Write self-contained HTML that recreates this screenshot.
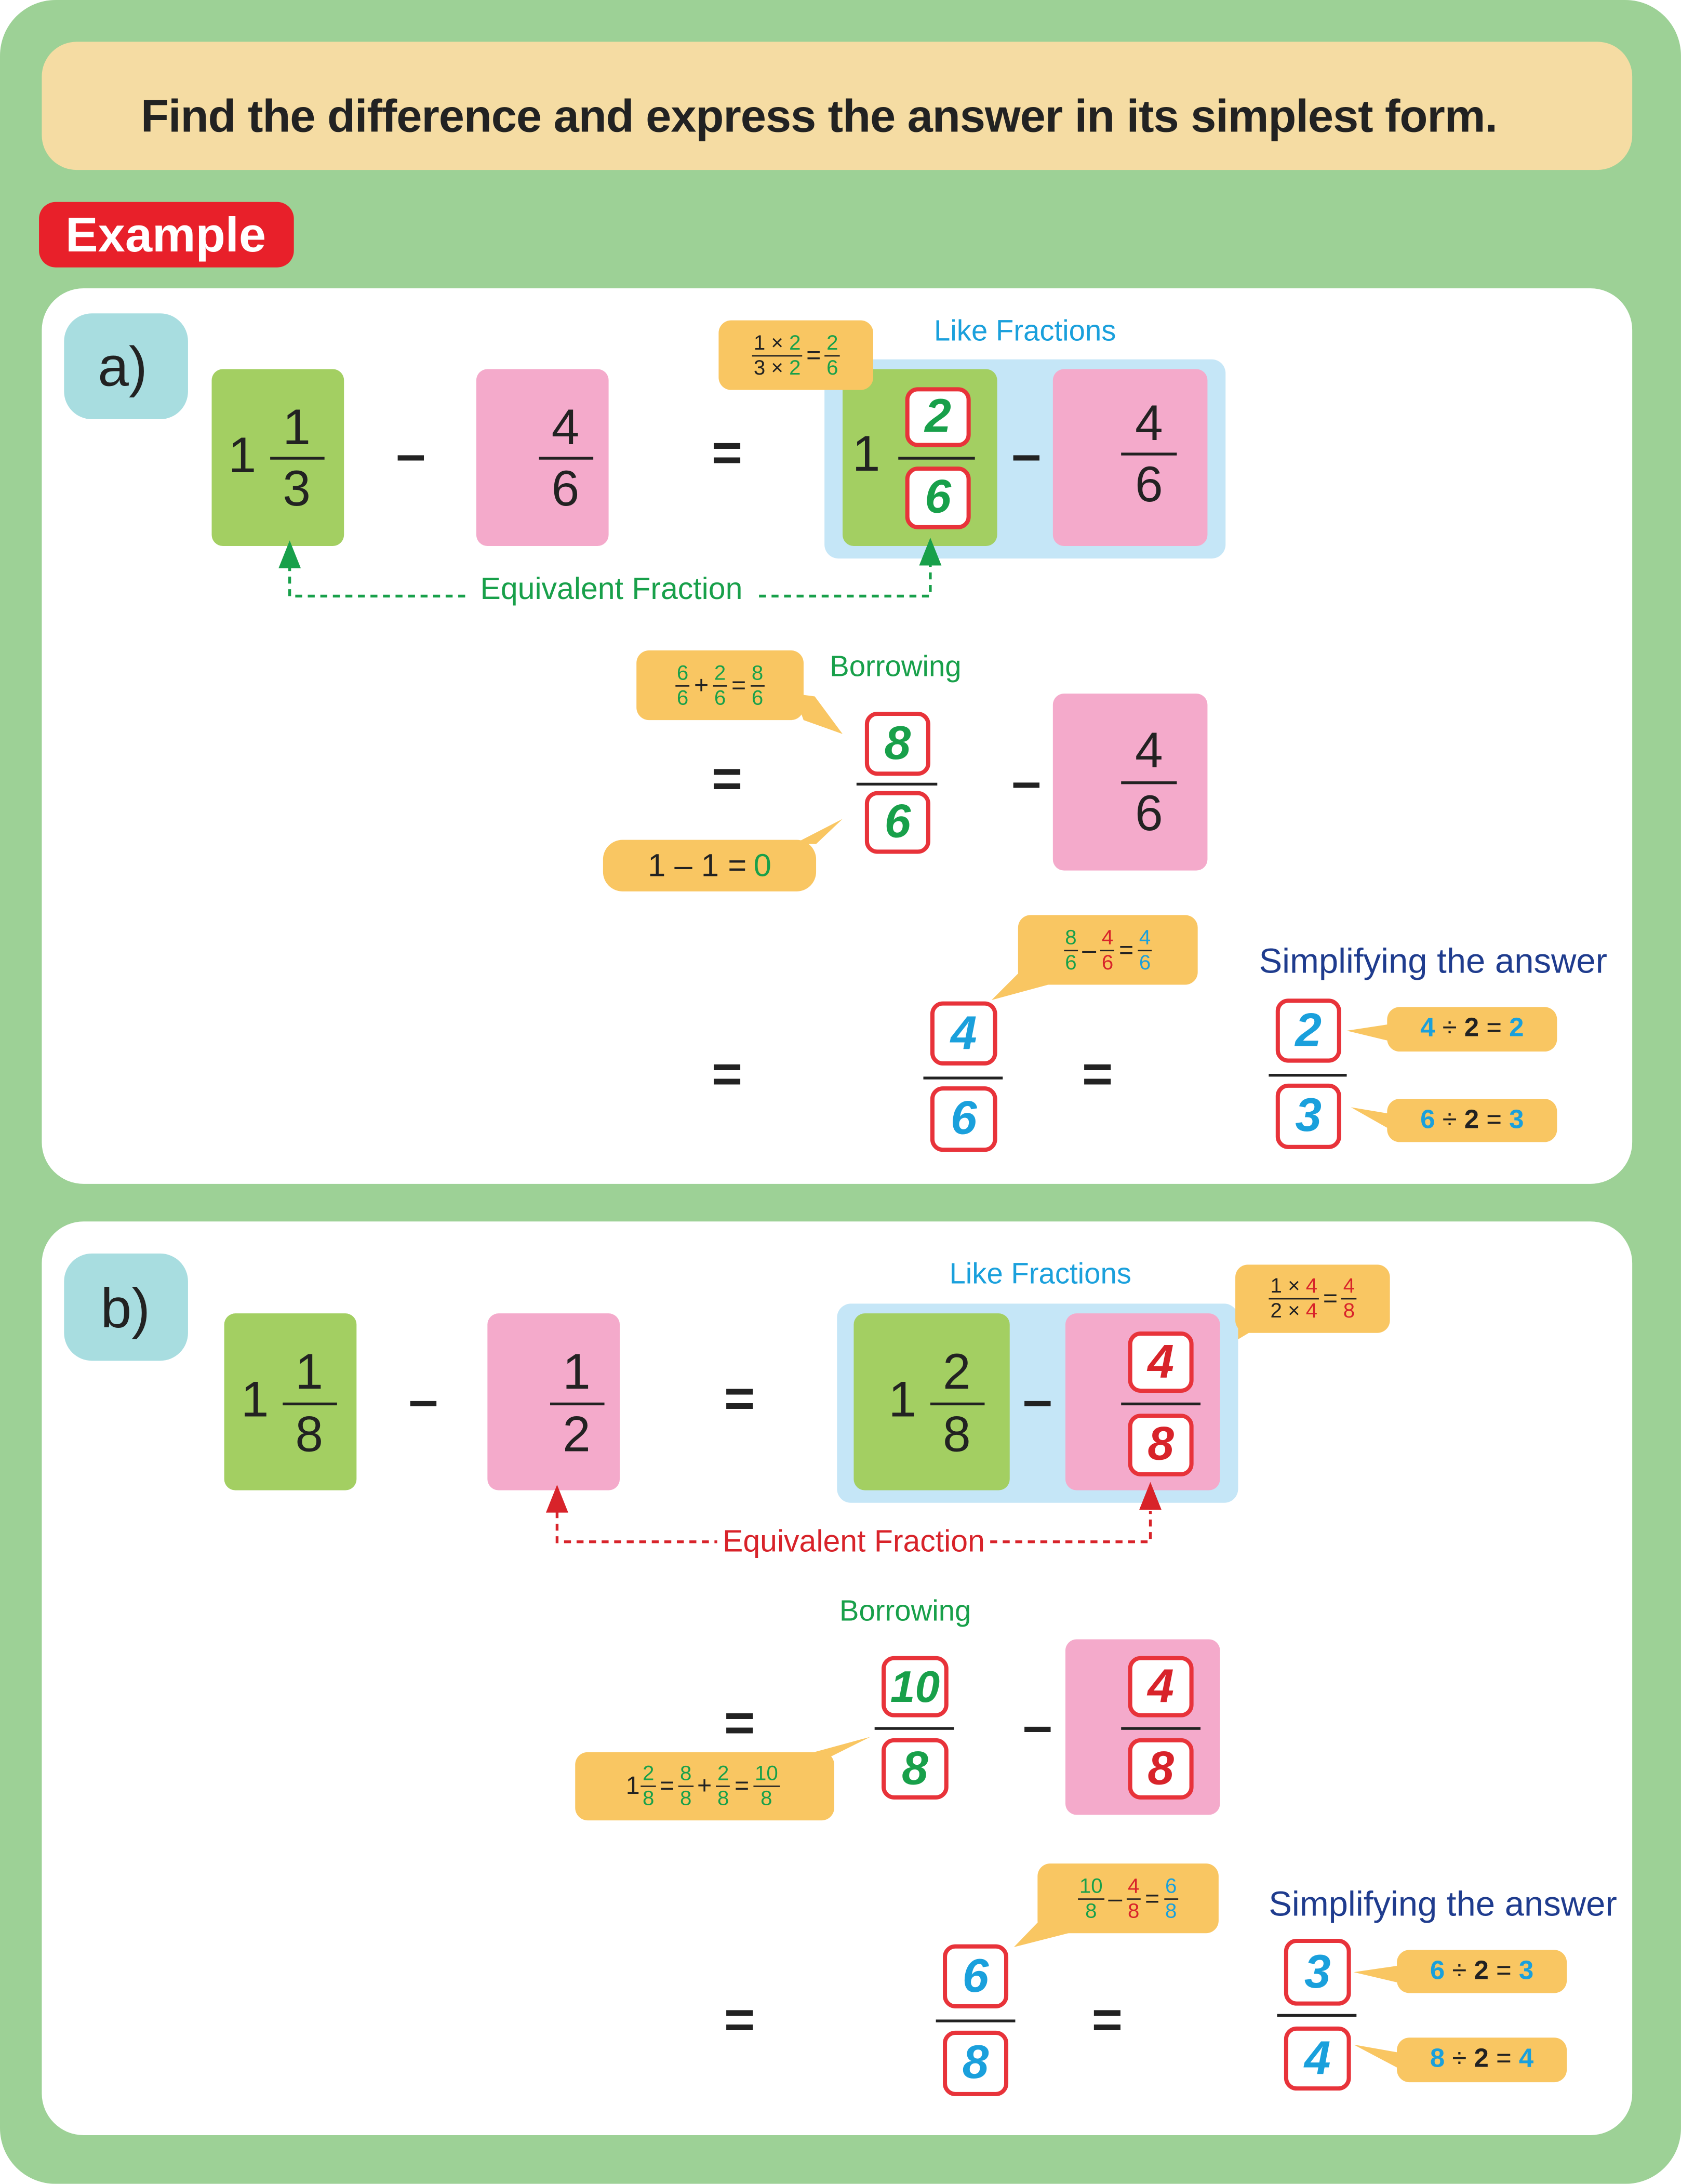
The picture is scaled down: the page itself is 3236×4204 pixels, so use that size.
<!DOCTYPE html>
<html><head><meta charset="utf-8"><style>
html,body{margin:0;padding:0;background:#fff;}
#w{position:absolute;left:0;top:0;width:1207px;height:1568px;transform:scale(2.681);transform-origin:0 0;font-family:"Liberation Sans",sans-serif;overflow:hidden;background:#fff}
.a{position:absolute;box-sizing:border-box}
.c{position:absolute;transform:translate(-50%,-50%);white-space:nowrap;line-height:1}
.g{background:#a3cf62;border-radius:8px}
.p{background:#f4aacb;border-radius:8px}
.bl{background:#c5e6f7;border-radius:10px}
.big{font-size:36px;color:#222}
.op{font-size:38px;color:#222;font-weight:bold}
.ln{position:absolute;height:2px;background:#222}
.rb{position:absolute;box-sizing:border-box;border:3px solid #e8333a;border-radius:9px;background:#fff;display:flex;align-items:center;justify-content:center;font-size:34px;font-weight:bold;font-style:italic}
.co{position:absolute;box-sizing:border-box;background:#f9c662;border-radius:9px;display:flex;align-items:center;justify-content:center;font-size:18px;color:#222;white-space:nowrap}
.fr{display:inline-flex;flex-direction:column;align-items:center;vertical-align:middle;font-size:15px;line-height:17px;margin:0 3px}
.fr>span:first-child{border-bottom:1px solid #222;padding:0 1px}
.gr{color:#18a04a}.rd{color:#d8232a}.bu{color:#1aa0dc}
</style></head><body><div id="w">
<div class="a" style="left:0;top:0;width:1207px;height:1568px;background:#9dd196;border-radius:40px"></div>
<div class="a" style="left:30px;top:30px;width:1142px;height:92px;background:#f5dca3;border-radius:25px"></div>
<div class="c" style="left:588px;top:83px;font-size:33px;font-weight:bold;color:#222;letter-spacing:-0.4px">Find the difference and express the answer in its simplest form.</div>
<div class="a" style="left:28px;top:145px;width:183px;height:47px;background:#e8202a;border-radius:12px"></div>
<div class="c" style="left:119px;top:169px;font-size:35px;font-weight:bold;color:#fff">Example</div>
<div class="a" style="left:30px;top:207px;width:1142px;height:643px;background:#fff;border-radius:30px"></div>
<div class="a" style="left:30px;top:877px;width:1142px;height:656px;background:#fff;border-radius:30px"></div>

<svg class="a" style="left:0;top:0" width="1207" height="1568">
<g fill="#f9c662">
<polygon points="600,262 622,262 650,295"/>
<polygon points="570,498 577,517 605,527 585,500"/>
<polygon points="570,606 586,606 605,588"/>
<polygon points="740,690 760,705 712,718"/>
<polygon points="1000,735 1000,748 967,740"/>
<polygon points="1000,800 1000,812 970,795"/>
<polygon points="890,940 900,955 875,970"/>
<polygon points="570,1262 595,1262 625,1247"/>
<polygon points="755,1370 775,1386 728,1398"/>
<polygon points="1006,1411 1006,1424 972,1416"/>
<polygon points="1006,1474 1006,1486 972,1468"/>
</g>
<g stroke="#18a04a" stroke-width="2" stroke-dasharray="5,4" fill="none">
<polyline points="208,405 208,428 335,428"/><polyline points="545,428 668,428 668,405"/>
</g>
<g stroke="#d8232a" stroke-width="2" stroke-dasharray="5,4" fill="none">
<polyline points="400,1085 400,1107 515,1107"/><polyline points="711,1107 826,1107 826,1085"/>
</g>
</svg>

<!-- a -->
<div class="a" style="left:46px;top:225px;width:89px;height:76px;background:#a8dde0;border-radius:20px"></div>
<div class="c" style="left:88px;top:264px;font-size:40px;color:#222">a)</div>
<div class="a g" style="left:152px;top:265px;width:95px;height:127px"></div>
<div class="c big" style="left:174px;top:327px">1</div>
<div class="c big" style="left:213px;top:307px">1</div><div class="ln" style="left:194px;top:328px;width:39px"></div><div class="c big" style="left:213px;top:351px">3</div>
<div class="c op" style="left:295px;top:327px">–</div>
<div class="a p" style="left:342px;top:265px;width:95px;height:127px"></div>
<div class="c big" style="left:406px;top:307px">4</div><div class="ln" style="left:387px;top:328px;width:39px"></div><div class="c big" style="left:406px;top:351px">6</div>
<div class="c op" style="left:522px;top:326px">=</div>
<div class="a bl" style="left:592px;top:258px;width:288px;height:143px"></div>
<div class="a g" style="left:605px;top:265px;width:111px;height:127px"></div>
<div class="c big" style="left:622px;top:326px">1</div>
<div class="rb gr" style="left:650px;top:278px;width:47px;height:43px">2</div>
<div class="ln" style="left:645px;top:328px;width:55px"></div>
<div class="rb gr" style="left:650px;top:335px;width:47px;height:45px">6</div>
<div class="c op" style="left:737px;top:327px">–</div>
<div class="a p" style="left:756px;top:265px;width:111px;height:127px"></div>
<div class="c big" style="left:825px;top:304px">4</div><div class="ln" style="left:805px;top:325px;width:40px"></div><div class="c big" style="left:825px;top:348px">6</div>
<div class="c bu" style="left:736px;top:238px;font-size:21px">Like Fractions</div>
<div class="co" style="left:516px;top:230px;width:111px;height:50px"><span class="fr"><span>1 × <span class="gr">2</span></span><span>3 × <span class="gr">2</span></span></span>=<span class="fr"><span class="gr">2</span><span class="gr">6</span></span></div>
<div class="c gr" style="left:439px;top:423px;font-size:22px">Equivalent Fraction</div>

<div class="co" style="left:457px;top:467px;width:120px;height:50px"><span class="fr"><span class="gr">6</span><span class="gr">6</span></span>+<span class="fr"><span class="gr">2</span><span class="gr">6</span></span>=<span class="fr"><span class="gr">8</span><span class="gr">6</span></span></div>
<div class="c gr" style="left:643px;top:479px;font-size:21px">Borrowing</div>
<div class="c op" style="left:522px;top:560px">=</div>
<div class="rb gr" style="left:621px;top:511px;width:47px;height:46px">8</div>
<div class="ln" style="left:615px;top:562px;width:58px"></div>
<div class="rb gr" style="left:621px;top:568px;width:47px;height:45px">6</div>
<div class="c op" style="left:737px;top:562px">–</div>
<div class="a p" style="left:756px;top:498px;width:111px;height:127px"></div>
<div class="c big" style="left:825px;top:539px">4</div><div class="ln" style="left:805px;top:561px;width:40px"></div><div class="c big" style="left:825px;top:584px">6</div>
<div class="co" style="left:433px;top:603px;width:153px;height:37px;border-radius:14px;font-size:23px">1 – 1 = <span class="gr" style="margin-left:5px">0</span></div>

<div class="co" style="left:731px;top:657px;width:129px;height:50px"><span class="fr"><span class="gr">8</span><span class="gr">6</span></span>–<span class="fr"><span class="rd">4</span><span class="rd">6</span></span>=<span class="fr"><span class="bu">4</span><span class="bu">6</span></span></div>
<div class="c op" style="left:522px;top:772px">=</div>
<div class="rb bu" style="left:668px;top:719px;width:48px;height:46px">4</div>
<div class="ln" style="left:663px;top:773px;width:57px"></div>
<div class="rb bu" style="left:668px;top:780px;width:48px;height:47px">6</div>
<div class="c op" style="left:788px;top:772px">=</div>
<div class="c" style="left:1029px;top:691px;font-size:25px;color:#1f3c8e">Simplifying the answer</div>
<div class="rb bu" style="left:916px;top:717px;width:47px;height:46px">2</div>
<div class="ln" style="left:911px;top:771px;width:56px"></div>
<div class="rb bu" style="left:916px;top:778px;width:47px;height:47px">3</div>
<div class="co" style="left:996px;top:723px;width:122px;height:32px;font-size:19px"><b class="bu">4</b>&nbsp;÷&nbsp;<b>2</b>&nbsp;=&nbsp;<b class="bu">2</b></div>
<div class="co" style="left:996px;top:789px;width:122px;height:31px;font-size:19px"><b class="bu">6</b>&nbsp;÷&nbsp;<b>2</b>&nbsp;=&nbsp;<b class="bu">3</b></div>

<!-- b -->
<div class="a" style="left:46px;top:900px;width:89px;height:77px;background:#a8dde0;border-radius:20px"></div>
<div class="c" style="left:90px;top:940px;font-size:40px;color:#222">b)</div>
<div class="a g" style="left:161px;top:943px;width:95px;height:127px"></div>
<div class="c big" style="left:183px;top:1005px">1</div>
<div class="c big" style="left:222px;top:985px">1</div><div class="ln" style="left:203px;top:1007px;width:39px"></div><div class="c big" style="left:222px;top:1030px">8</div>
<div class="c op" style="left:304px;top:1006px">–</div>
<div class="a p" style="left:350px;top:943px;width:95px;height:127px"></div>
<div class="c big" style="left:414px;top:985px">1</div><div class="ln" style="left:395px;top:1007px;width:39px"></div><div class="c big" style="left:414px;top:1030px">2</div>
<div class="c op" style="left:531px;top:1005px">=</div>
<div class="a bl" style="left:601px;top:936px;width:288px;height:143px"></div>
<div class="a g" style="left:613px;top:943px;width:112px;height:127px"></div>
<div class="c big" style="left:648px;top:1005px">1</div>
<div class="c big" style="left:687px;top:985px">2</div><div class="ln" style="left:668px;top:1007px;width:39px"></div><div class="c big" style="left:687px;top:1030px">8</div>
<div class="c op" style="left:745px;top:1006px">–</div>
<div class="a p" style="left:765px;top:943px;width:111px;height:127px"></div>
<div class="rb rd" style="left:810px;top:956px;width:47px;height:44px">4</div>
<div class="ln" style="left:805px;top:1007px;width:57px"></div>
<div class="rb rd" style="left:810px;top:1015px;width:47px;height:45px">8</div>
<div class="c bu" style="left:747px;top:915px;font-size:21px">Like Fractions</div>
<div class="co" style="left:887px;top:908px;width:111px;height:49px"><span class="fr"><span>1 × <span class="rd">4</span></span><span>2 × <span class="rd">4</span></span></span>=<span class="fr"><span class="rd">4</span><span class="rd">8</span></span></div>
<div class="c rd" style="left:613px;top:1107px;font-size:22px;background:#fff">Equivalent Fraction</div>

<div class="c gr" style="left:650px;top:1157px;font-size:21px">Borrowing</div>
<div class="c op" style="left:531px;top:1238px">=</div>
<div class="rb gr" style="left:633px;top:1189px;width:48px;height:44px;font-size:32px">10</div>
<div class="ln" style="left:628px;top:1240px;width:57px"></div>
<div class="rb gr" style="left:633px;top:1248px;width:48px;height:44px">8</div>
<div class="c op" style="left:745px;top:1240px">–</div>
<div class="a p" style="left:765px;top:1177px;width:111px;height:126px"></div>
<div class="rb rd" style="left:810px;top:1189px;width:47px;height:44px">4</div>
<div class="ln" style="left:805px;top:1240px;width:57px"></div>
<div class="rb rd" style="left:810px;top:1248px;width:47px;height:44px">8</div>
<div class="co" style="left:413px;top:1258px;width:186px;height:49px">1<span class="fr" style="margin-left:1px"><span class="gr">2</span><span class="gr">8</span></span>=<span class="fr"><span class="gr">8</span><span class="gr">8</span></span>+<span class="fr"><span class="gr">2</span><span class="gr">8</span></span>=<span class="fr"><span class="gr">10</span><span class="gr">8</span></span></div>

<div class="co" style="left:745px;top:1338px;width:130px;height:50px"><span class="fr"><span class="gr">10</span><span class="gr">8</span></span>–<span class="fr"><span class="rd">4</span><span class="rd">8</span></span>=<span class="fr"><span class="bu">6</span><span class="bu">8</span></span></div>
<div class="c op" style="left:531px;top:1451px">=</div>
<div class="rb bu" style="left:677px;top:1396px;width:47px;height:46px">6</div>
<div class="ln" style="left:672px;top:1450px;width:57px"></div>
<div class="rb bu" style="left:677px;top:1458px;width:47px;height:47px">8</div>
<div class="c op" style="left:795px;top:1451px">=</div>
<div class="c" style="left:1036px;top:1368px;font-size:25px;color:#1f3c8e">Simplifying the answer</div>
<div class="rb bu" style="left:922px;top:1392px;width:48px;height:48px">3</div>
<div class="ln" style="left:917px;top:1446px;width:57px"></div>
<div class="rb bu" style="left:922px;top:1455px;width:48px;height:46px">4</div>
<div class="co" style="left:1003px;top:1400px;width:122px;height:31px;font-size:19px"><b class="bu">6</b>&nbsp;÷&nbsp;<b>2</b>&nbsp;=&nbsp;<b class="bu">3</b></div>
<div class="co" style="left:1003px;top:1463px;width:122px;height:32px;font-size:19px"><b class="bu">8</b>&nbsp;÷&nbsp;<b>2</b>&nbsp;=&nbsp;<b class="bu">4</b></div>

<svg class="a" style="left:0;top:0" width="1207" height="1568">
<g stroke="#18a04a" stroke-width="2" stroke-dasharray="5,4" fill="none"><line x1="668" y1="392" x2="668" y2="410"/></g>
<g stroke="#d8232a" stroke-width="2" stroke-dasharray="5,4" fill="none"><line x1="826" y1="1070" x2="826" y2="1088"/></g>
<g fill="#18a04a"><polygon points="208,388 200,408 216,408"/><polygon points="668,386 660,406 676,406"/></g>
<g fill="#d8232a"><polygon points="400,1066 392,1086 408,1086"/><polygon points="826,1064 818,1084 834,1084"/></g>
</svg>
</div></body></html>
